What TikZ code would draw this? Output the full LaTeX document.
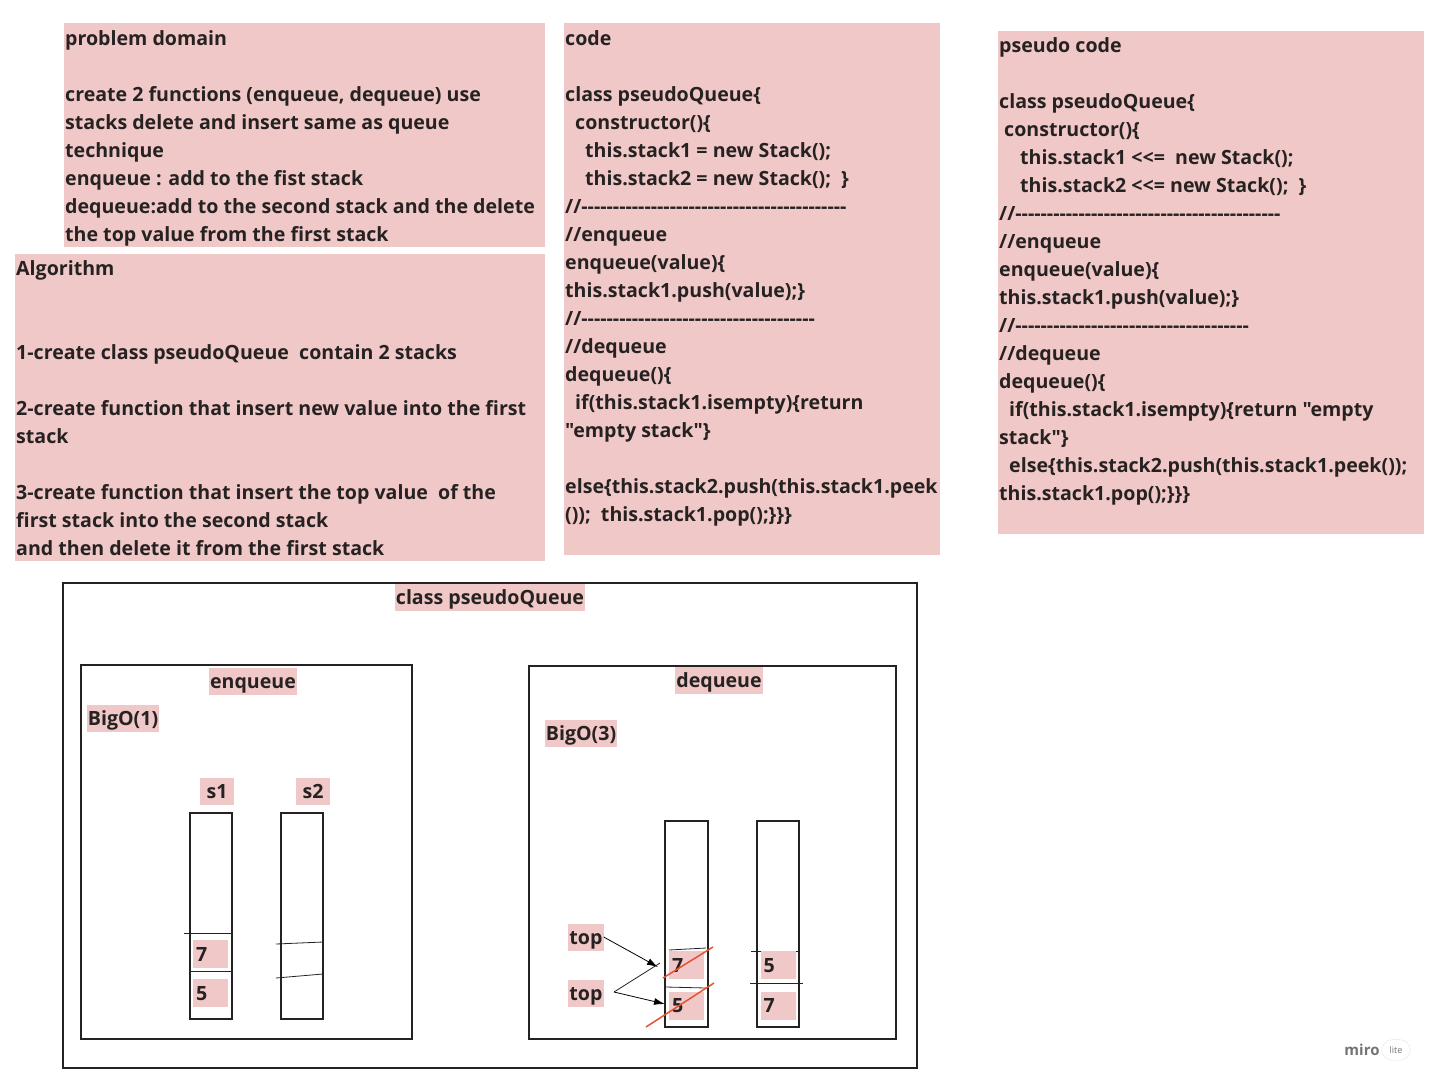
\documentclass[tikz,border=0pt]{standalone}
\usepackage{fontspec}
\newfontfamily\boardfont{Open Sans}
\usetikzlibrary{arrows.meta}
\definecolor{notepink}{RGB}{241,200,200}
\definecolor{inkred}{RGB}{230,82,52}
\definecolor{inkdark}{RGB}{38,34,34}

\begin{document}
\begin{tikzpicture}[x=1pt,y=-1pt,
  every node/.style={font=\boardfont\bfseries\fontsize{19.6}{28}\selectfont, text=inkdark},
  note/.style={anchor=north west, align=left, inner sep=0pt},
  tag/.style={fill=notepink, inner xsep=1pt, inner ysep=3pt, text height=17.5pt, text depth=3.5pt},
  cell/.style={fill=notepink, inner sep=3pt, text width=29pt, align=left,
    text height=18pt, text depth=4pt},
  frame/.style={draw=inkdark, line width=1.6pt},
  divider/.style={draw=inkdark, line width=0.8pt},
  pointer/.style={draw=black, line width=0.8pt, -{Latex[length=11pt,width=7pt]}},
  strike/.style={draw=inkred, line width=1.5pt}
]
\useasboundingbox (0,0) rectangle (1435,1088);

% sticky notes
\fill[notepink] (64,23) rectangle (545,247);
\fill[notepink] (15,254) rectangle (545,561);
\fill[notepink] (564,23) rectangle (940,555);
\fill[notepink] (998,31) rectangle (1424,534);

\node[note] (problem) at (65,30.5) {\rule{0pt}{15pt}problem domain\\
\mbox{}\\
create 2 functions (enqueue, dequeue) use\\
stacks delete and insert same as queue\\
technique\\
enqueue : add to the fist stack\\
dequeue:add to the second stack and the delete\\
the top value from the first stack};

\node[note] (algo) at (16,260.5) {\rule{0pt}{15pt}Algorithm\\
\mbox{}\\
\mbox{}\\
1-create class pseudoQueue \ contain 2 stacks\\
\mbox{}\\
2-create function that insert new value into the first\\
stack\\
\mbox{}\\
3-create function that insert the top value \ of the\\
first stack into the second stack\\
and then delete it from the first stack};

\node[note] (code) at (565,30.5) {\rule{0pt}{15pt}code\\
\mbox{}\\
class pseudoQueue\{\\
\hspace*{10pt}constructor()\{\\
\hspace*{20pt}this.stack1 = new Stack();\\
\hspace*{20pt}this.stack2 = new Stack(); \ \}\\
//------------------------------------------\\
//enqueue\\
enqueue(value)\{\\
this.stack1.push(value);\}\\
//-------------------------------------\\
//dequeue\\
dequeue()\{\\
\hspace*{10pt}if(this.stack1.isempty)\{return\\
"empty stack"\}\\
\mbox{}\\
else\{this.stack2.push(this.stack1.peek\\
()); \ this.stack1.pop();\}\}\}};

\node[note] (pseudo) at (999,37.5) {\rule{0pt}{15pt}pseudo code\\
\mbox{}\\
class pseudoQueue\{\\
\hspace*{5pt}constructor()\{\\
\hspace*{21pt}this.stack1 <<= \ new Stack();\\
\hspace*{21pt}this.stack2 <<= new Stack(); \ \}\\
//------------------------------------------\\
//enqueue\\
enqueue(value)\{\\
this.stack1.push(value);\}\\
//-------------------------------------\\
//dequeue\\
dequeue()\{\\
\hspace*{10pt}if(this.stack1.isempty)\{return "empty\\
stack"\}\\
\hspace*{10pt}else\{this.stack2.push(this.stack1.peek());\\
this.stack1.pop();\}\}\}};

% class frame
\draw[frame] (63,583) rectangle (917,1068);
\node[tag, minimum width=188pt] (classtag) at (490,597) {class pseudoQueue};

% enqueue side
\draw[frame] (81,665) rectangle (412,1039);
\node[tag, minimum width=87pt] (enqtag) at (253,681) {enqueue};
\node[tag, minimum width=70pt] (bigone) at (123,718) {BigO(1)};
\node[tag, minimum width=34pt] (sonetag) at (217,791) {s1};
\node[tag, minimum width=34pt] (stwotag) at (313,791) {s2};
\draw[frame] (190,813) rectangle (232,1019);
\draw[frame] (281,813) rectangle (323,1019);
\node[cell] (sevenone) at (210.5,954) {7};
\node[cell] (fiveone) at (210.5,993) {5};
\draw[divider] (184,933) -- (232,933);
\draw[divider] (190,971) -- (232,971);
\draw[divider] (276,944) -- (323,942);
\draw[divider] (276,978) -- (323,974);

% dequeue side
\draw[frame] (529,666) rectangle (896,1039);
\node[tag, minimum width=86pt] (deqtag) at (719,680) {dequeue};
\node[tag, minimum width=72pt] (bigthree) at (581,733) {BigO(3)};
\draw[frame] (665,821) rectangle (708,1027);
\draw[frame] (757,821) rectangle (799,1027);
\draw[divider] (669,950) -- (706,948);
\draw[divider] (666,987) -- (706,988);
\draw[divider] (751,951) -- (799,951);
\draw[divider] (750,983) -- (803,983);
\node[cell] (seventwo) at (686.5,965) {7};
\node[cell] (fivetwo) at (686.5,1005.5) {5};
\node[cell] (fivethree) at (778,965) {5};
\node[cell] (seventhree) at (778,1005.5) {7};
\draw[strike] (663,978) -- (713,947);
\draw[strike] (646,1027) -- (714,983);

\node[tag, minimum width=34pt] (topone) at (586,937) {top};
\node[tag, minimum width=34pt] (toptwo) at (586,993) {top};
\coordinate (fork) at (614,992);
\coordinate (forkup) at (660,963);
\draw[pointer] (topone.east) -- (658,967);
\draw[divider] (fork) -- (forkup);
\draw[pointer] (fork) -- (665,1004);

% miro mark
\node[font=\boardfont\bfseries\fontsize{15}{18}\selectfont, text=black!55] (mirologo) at (1362,1050) {miro};
\node[draw=black!10, fill=white, rounded corners=11pt, inner xsep=8pt, inner ysep=7pt,
  font=\boardfont\fontsize{9}{10}\selectfont, text=black!55] (lite) at (1396,1050) {lite};
\end{tikzpicture}
\end{document}
